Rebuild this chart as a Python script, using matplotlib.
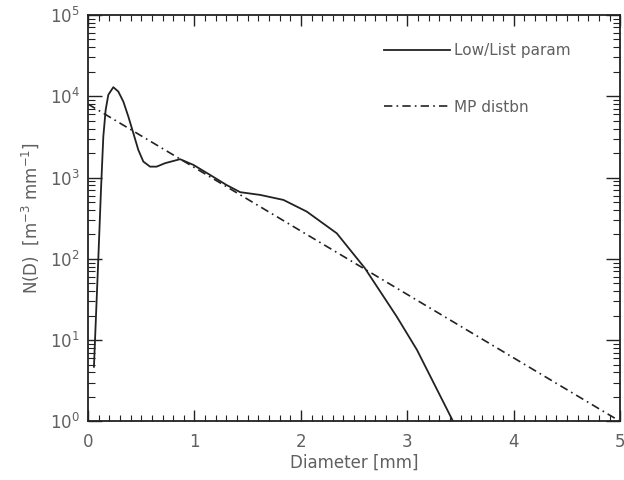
import matplotlib
matplotlib.use("Agg")
import matplotlib.pyplot as plt
import numpy as np
from matplotlib.ticker import LogLocator, MultipleLocator, FixedLocator

diam = [0.056, 0.066, 0.097, 0.122, 0.144, 0.166, 0.191, 0.238, 0.285, 0.332,
        0.379, 0.426, 0.473, 0.52, 0.583, 0.645, 0.724, 0.865, 0.99, 1.147,
        1.30, 1.43, 1.617, 1.836, 2.055, 2.337, 2.60, 2.90, 3.09, 3.43, 3.55]
nd_param = [4.7, 10, 100, 700, 3180, 6770, 10400, 12900, 11400, 8590,
            5620, 3510, 2180, 1570, 1360, 1360, 1500, 1680, 1430, 1076,
            811, 660, 611, 530, 381, 206, 77, 19.5, 7.6, 1.0, 0.45]

# Marshall-Palmer exponential, straight on a log axis
diam_mp = [0.0, 5.0]
nd_mp = [8000.0, 1.0]

txt = "#606060"
plt.rcParams["font.family"] = "DejaVu Sans"

fig = plt.figure(figsize=(6.24, 4.8), dpi=100)
ax = fig.add_axes([0.141, 0.122, 0.853, 0.847])

ax.plot(diam, nd_param, color="#222222", lw=1.3, label="Low/List param")
ax.plot(diam_mp, nd_mp, color="#222222", lw=1.2,
        linestyle=(0, (5, 2.5, 1, 2.5)), label="MP distbn")

ax.set_yscale("log")
ax.set_xlim(0, 5)
ax.set_ylim(1, 1e5)

ax.xaxis.set_major_locator(MultipleLocator(1))
ax.xaxis.set_minor_locator(MultipleLocator(0.1))
ax.yaxis.set_major_locator(FixedLocator([1, 10, 100, 1e3, 1e4, 1e5]))
ax.yaxis.set_minor_locator(LogLocator(base=10, subs=np.arange(2, 10), numticks=20))

ax.tick_params(which="both", direction="in", top=True, right=True,
               color="#222222", labelcolor=txt, labelsize=12)
ax.tick_params(axis="y", which="major", length=10, width=1.0, pad=6)
ax.tick_params(axis="y", which="minor", length=5, width=0.8)
ax.tick_params(axis="x", which="major", length=8, width=1.0, pad=8)
ax.tick_params(axis="x", which="minor", length=4, width=0.8)
for s in ax.spines.values():
    s.set_color("#222222")
    s.set_linewidth(1.3)

ax.set_xlabel("Diameter [mm]", color=txt, fontsize=12, labelpad=2)
ax.set_ylabel("N(D)  [m$^{-3}$ mm$^{-1}$]", color=txt, fontsize=12, labelpad=6)

leg = ax.legend(loc="upper left", bbox_to_anchor=(0.545, 0.945), frameon=False,
                handlelength=4.3, handletextpad=0.3, labelspacing=2.7,
                fontsize=11, borderaxespad=0)
for t in leg.get_texts():
    t.set_color(txt)

fig.savefig("out.png", dpi=100, facecolor="white")
